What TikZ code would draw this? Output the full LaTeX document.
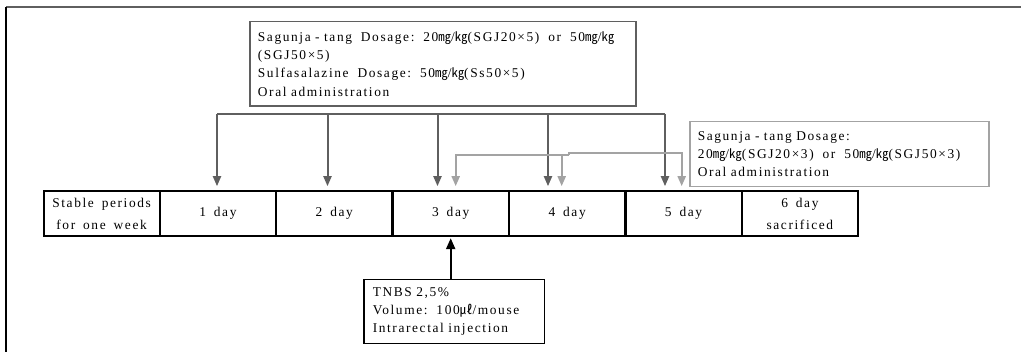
\documentclass[tikz,border=0pt]{standalone}
\usepackage{fontspec}
\setmainfont{Liberation Serif}[LetterSpace=12,WordSpace=1.6]
\newfontfamily\cjkf{Noto Sans CJK KR}[Scale=0.95]
\usetikzlibrary{arrows.meta}
\definecolor{dgray}{HTML}{5F5F5F}
\definecolor{lgray}{HTML}{A3A3A3}
\newcommand{\mgu}{{\cjkf ㎎}}
\newcommand{\kgu}{{\cjkf ㎏}}
\newcommand{\mlu}{{\cjkf ㎕}}
\begin{document}
\begin{tikzpicture}[x=1pt,y=-1pt,
  font=\fontsize{13.4}{18.3}\selectfont,
  cell/.style={draw=black, line width=1.2pt, minimum height=44.3pt, minimum width=115.2pt,
    inner sep=0pt, align=center, anchor=north west, font=\fontsize{13.4}{22}\selectfont},
  infobox/.style={anchor=north west, inner ysep=0pt, align=left},
  darr/.style={draw=dgray, line width=2pt, -{Triangle[width=8pt,length=10pt]}},
  garr/.style={draw=lgray, line width=2pt, -{Triangle[width=8pt,length=10pt]}},
  dline/.style={draw=dgray, line width=2.4pt},
  gline/.style={draw=lgray, line width=2pt},
  barr/.style={draw=black, line width=2.2pt, {Triangle[width=9pt,length=11pt]}-}
]
\useasboundingbox (0,0) rectangle (1021,352);
% frame
\draw[dgray, line width=1.5pt] (6,7) -- (1021,7);
\draw[black, line width=1.5pt] (6,7) -- (6,352);

% top box
\node[infobox, draw=dgray, line width=1.8pt, minimum width=386pt, minimum height=84.3pt,
  text width=370pt, inner xsep=8pt] (topbox) at (249,20.7)
  {Sagunja~-~tang~~Dosage:~~20\mgu/\kgu(SGJ20×5)~~or~~50\mgu/\kgu\\
   (SGJ50×5)\\
   Sulfasalazine~~Dosage:~~50\mgu/\kgu(Ss50×5)\\
   Oral administration};

% right box
\node[infobox, draw=lgray, line width=1.5pt, minimum width=299pt, minimum height=65pt,
  text width=283pt, inner xsep=8pt] (rbox) at (689,121)
  {Sagunja~-~tang~Dosage:\\
   20\mgu/\kgu(SGJ20×3)~~or~~50\mgu/\kgu(SGJ50×3)\\
   Oral administration};

% table
\node[cell, minimum width=115pt] (c0) at (43.5,190.7) {Stable periods\\for one week};
\node[cell] (c1) at (c0.north east) {1 day};
\node[cell] (c2) at (c1.north east) {2 day};
\node[cell] (c3) at (c2.north east) {3 day};
\node[cell] (c4) at (c3.north east) {4 day};
\node[cell] (c5) at (c4.north east) {5 day};
\node[cell] (c6) at (c5.north east) {6 day\\sacrificed};
\draw[black, line width=2pt] (c0.north west) rectangle (c6.south east);

% TNBS box
\node[infobox, draw=black, line width=1.5pt, minimum width=180.6pt, minimum height=64.3pt,
  text width=162.6pt, inner xsep=9pt] (tnbs) at (363,278.7)
  {TNBS 2,5\%\\
   Volume:~~100\mlu/mouse\\
   Intrarectal injection};

% dark arrows (5 days)
\coordinate (bl) at (217,114);
\coordinate (br) at (665,114);
\draw[dline] (bl) -- (br);
\foreach \x/\c in {217/c1, 327.5/c2, 437.5/c3, 548/c4, 665/c5}
  \draw[darr] (\x,114) -- ([yshift=4.5pt]\c.north -| \x,0);

% gray arrows (3 days)
\draw[gline] (569,155) -- (569,153.3);
\draw[garr] (569,155) -- (455.7,155) -- ([yshift=4.5pt]c3.north -| 455.7,0);
\draw[garr] (561.7,155) -- ([yshift=4.5pt]c4.north -| 561.7,0);
\draw[garr] (568,153.3) -- (681.7,153.3) -- ([yshift=4.5pt]c5.north -| 681.7,0);

% TNBS arrow
\draw[barr] ([yshift=-2pt]c3.south) -- (c3.south |- tnbs.north);
\end{tikzpicture}
\end{document}
